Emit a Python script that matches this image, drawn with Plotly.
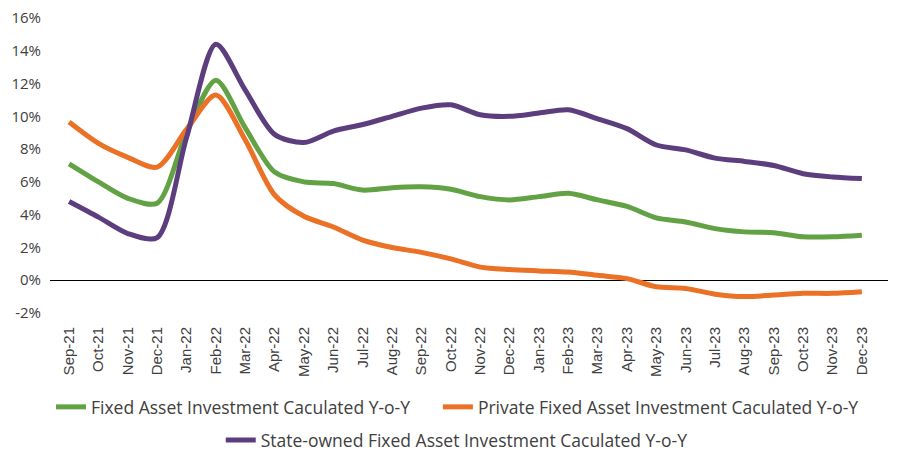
import plotly.graph_objects as go

months = ["Sep-21", "Oct-21", "Nov-21", "Dec-21", "Jan-22", "Feb-22", "Mar-22", "Apr-22",
          "May-22", "Jun-22", "Jul-22", "Aug-22", "Sep-22", "Oct-22", "Nov-22", "Dec-22",
          "Jan-23", "Feb-23", "Mar-23", "Apr-23", "May-23", "Jun-23", "Jul-23", "Aug-23",
          "Sep-23", "Oct-23", "Nov-23", "Dec-23"]

fixed_yoy = [7.1, 6.0, 5.0, 4.7, 9.0, 12.2, 9.3, 6.6, 6.0, 5.9, 5.5, 5.65, 5.7, 5.55,
             5.1, 4.9, 5.1, 5.3, 4.9, 4.5, 3.8, 3.55, 3.15, 2.95, 2.9, 2.65, 2.65, 2.75]

private_yoy = [9.65, 8.35, 7.5, 6.9, 9.2, 11.3, 8.55, 5.2, 3.9, 3.25, 2.45, 2.0, 1.7, 1.3,
               0.8, 0.65, 0.57, 0.5, 0.3, 0.1, -0.4, -0.5, -0.85, -1.0, -0.9, -0.8, -0.8, -0.7]

state_yoy = [4.8, 3.85, 2.85, 2.6, 8.7, 14.4, 11.6, 8.9, 8.4, 9.1, 9.5, 10.0, 10.5, 10.7,
             10.1, 10.0, 10.2, 10.4, 9.85, 9.25, 8.25, 7.95, 7.45, 7.25, 7.0, 6.5, 6.3, 6.2]

y_ticks = [-2, 0, 2, 4, 6, 8, 10, 12, 14, 16]
y_tick_labels = ["-2%", "0%", "2%", "4%", "6%", "8%", "10%", "12%", "14%", "16%"]

GREEN = "#62A244"
ORANGE = "#EA7126"
PURPLE = "#5C3D7D"
TEXT = "#404040"

fig = go.Figure()
fig.add_trace(go.Scatter(x=months, y=fixed_yoy, mode="lines",
                         name="Fixed Asset Investment Caculated Y-o-Y",
                         line=dict(color=GREEN, width=5, shape="spline", smoothing=0.8),
                         legend="legend", showlegend=True))
fig.add_trace(go.Scatter(x=months, y=private_yoy, mode="lines",
                         name="Private Fixed Asset Investment Caculated Y-o-Y",
                         line=dict(color=ORANGE, width=5, shape="spline", smoothing=0.8),
                         legend="legend3", showlegend=True))
fig.add_trace(go.Scatter(x=months, y=state_yoy, mode="lines",
                         name="State-owned Fixed Asset Investment Caculated Y-o-Y",
                         line=dict(color=PURPLE, width=5, shape="spline", smoothing=0.8),
                         legend="legend2", showlegend=True))

legend_font = dict(family="Open Sans, sans-serif", size=17.5, color=TEXT)


def leg(x_left, y_mid):
    return dict(orientation="h", xref="container", yref="container",
                x=x_left, xanchor="left", y=y_mid, yanchor="middle",
                font=legend_font, itemwidth=30, bgcolor="rgba(0,0,0,0)")


fig.update_layout(
    width=901, height=450,
    showlegend=True,
    margin=dict(l=50, r=13, t=18, b=137, autoexpand=False),
    paper_bgcolor="white", plot_bgcolor="white",
    font=dict(family="Open Sans, sans-serif", color=TEXT, size=14),
    legend=leg(0.0566, 0.0956),
    legend3=leg(0.486, 0.0956),
    legend2=leg(0.245, 0.022),
    xaxis=dict(type="category", range=[-0.65, 27.89], showgrid=False, showline=False,
               zeroline=False, tickangle=-90, ticks="", ticklabelstandoff=10,
               tickfont=dict(family="Liberation Sans, Arial, sans-serif", size=15, color=TEXT)),
    yaxis=dict(range=[-2, 16], tickvals=y_ticks, ticktext=y_tick_labels, showgrid=False,
               showline=False, zeroline=True, zerolinecolor="black", zerolinewidth=1,
               ticks="", ticklabelstandoff=8,
               tickfont=dict(family="Open Sans, sans-serif", size=15, color=TEXT)),
)

fig.write_html("out.html", config={"displayModeBar": False},
               post_script="document.body.style.margin='0';")
